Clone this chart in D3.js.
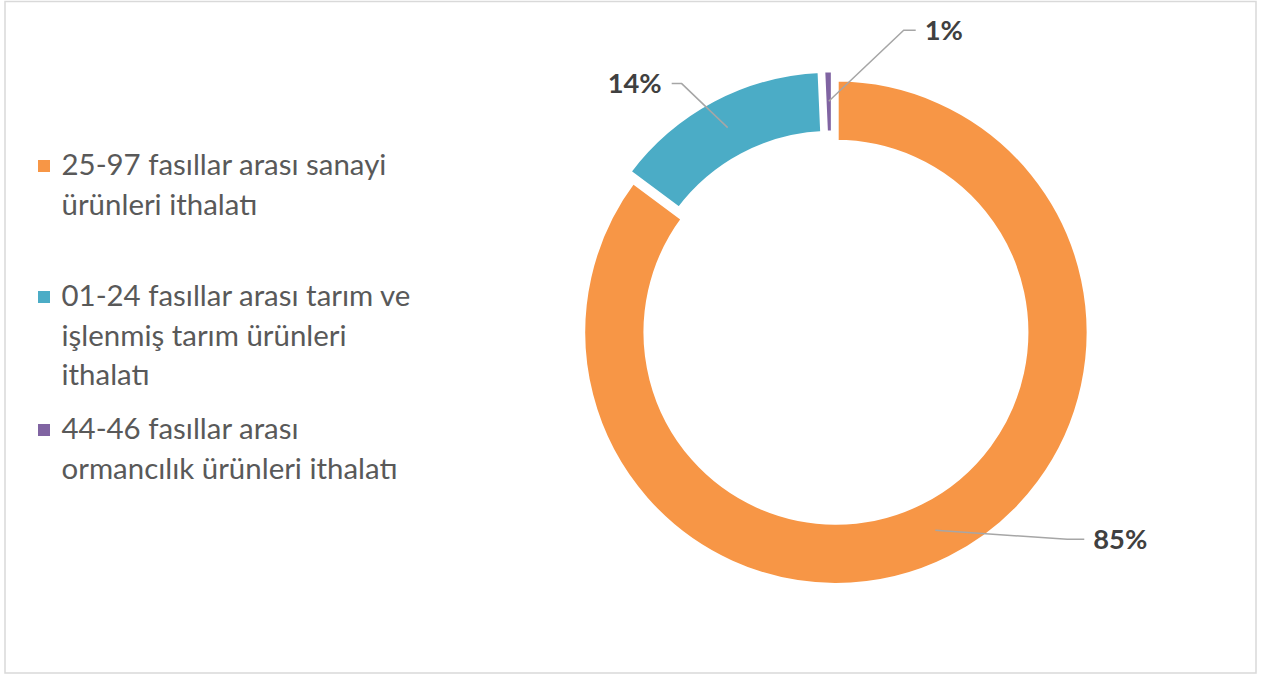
<!DOCTYPE html>
<html>
<head>
<meta charset="utf-8">
<script src="https://cdn.jsdelivr.net/npm/d3@7"></script>
<style>
  html, body { margin: 0; padding: 0; background: #fff; }
  svg { display: block; }
</style>
</head>
<body>
<svg id="chart" width="1267" height="675"></svg>
<script>
// ---- data ----
const categories = [
  "25-97 fasıllar arası sanayi ürünleri ithalatı",
  "01-24 fasıllar arası tarım ve işlenmiş tarım ürünleri ithalatı",
  "44-46 fasıllar arası ormancılık ürünleri ithalatı"
];
const legendLines = [
  ["25-97 fasıllar arası sanayi", "ürünleri ithalatı"],
  ["01-24 fasıllar arası tarım ve", "işlenmiş tarım ürünleri", "ithalatı"],
  ["44-46 fasıllar arası", "ormancılık ürünleri ithalatı"]
];
const values = [85.2, 14.1, 0.7];
const valueLabels = ["85%", "14%", "1%"];
const colors = ["#F79646", "#4BACC6", "#8064A2"];

// ---- layout ----
const W = 1267, H = 675;
const cx = 833.7, cy = 327.8;
const outerR = 253.4, innerR = 189.7;
const explode = 5;
const sliceGap = 5.5;
const fontFamily = "Lato, 'Open Sans', 'Noto Sans', sans-serif";

const svg = d3.select("#chart");

// chart border
svg.append("rect")
  .attr("x", 5).attr("y", 1.5)
  .attr("width", 1251).attr("height", 671.5)
  .attr("fill", "none").attr("stroke", "#d9d9d9").attr("stroke-width", 1.5);

const pie = d3.pie().sort(null).value(d => d);
const arcs = pie(values);
const arc = d3.arc().innerRadius(innerR).outerRadius(outerR);

const g = svg.append("g").attr("transform", `translate(${cx},${cy})`);

const slices = g.selectAll("g.slice").data(arcs).join("g")
  .attr("class", "slice")
  .attr("transform", d => {
    const m = (d.startAngle + d.endAngle) / 2;
    return `translate(${Math.sin(m) * explode},${-Math.cos(m) * explode})`;
  });

slices.append("path")
  .attr("d", arc)
  .attr("fill", (d, i) => colors[i])
  .attr("stroke", "#fff")
  .attr("stroke-width", sliceGap)
  .attr("stroke-linejoin", "miter");

// data labels with leader lines (offsets relative to slice centroid)
const labelLayout = [
  { elbow: [132, 9], end: [149, 9], anchor: "start", tx: 9 },
  { elbow: [-46, -44], end: [-56, -44], anchor: "end", tx: -10 },
  { elbow: [75, -71], end: [87, -71], anchor: "start", tx: 9 }
];

slices.each(function (d, i) {
  const s = d3.select(this);
  const c = arc.centroid(d);
  const L = labelLayout[i];
  const pts = [c, [c[0] + L.elbow[0], c[1] + L.elbow[1]], [c[0] + L.end[0], c[1] + L.end[1]]];
  s.append("path")
    .attr("d", d3.line()(pts))
    .attr("fill", "none")
    .attr("stroke", "#a6a6a6")
    .attr("stroke-width", 1.5);
  s.append("text")
    .attr("class", "vlabel")
    .attr("x", pts[2][0] + L.tx)
    .attr("y", pts[2][1])
    .attr("dy", "0.35em")
    .attr("text-anchor", L.anchor)
    .attr("font-family", fontFamily)
    .attr("font-weight", "bold")
    .attr("fill", "#404040")
    .text(valueLabels[i]);
});

// fit label font to reference width ("85%" ≈ 54px)
(function () {
  const t = svg.selectAll("text.vlabel").attr("font-size", 30);
  const w = t.filter((d, i) => i === 0).node().getComputedTextLength();
  t.attr("font-size", 30 * 54 / w);
})();

// legend
const legendX = 38, textX = 61.5;
const firstBaselines = [175, 306, 439];
const lineH = 39.5;
const legend = svg.append("g").attr("class", "legend");
legendLines.forEach((lines, i) => {
  const b = firstBaselines[i];
  legend.append("rect")
    .attr("x", legendX).attr("y", b - 15)
    .attr("width", 12).attr("height", 12)
    .attr("fill", colors[i]);
  const t = legend.append("text")
    .attr("class", "ltext")
    .attr("font-family", fontFamily)
    .attr("fill", "#595959")
    .attr("aria-label", categories[i]);
  lines.forEach((ln, j) => {
    t.append("tspan").attr("x", textX).attr("y", b + j * lineH).text(ln);
  });
});
(function () {
  const texts = svg.selectAll("text.ltext").attr("font-size", 27);
  const tsp = texts.filter((d, i) => i === 0).select("tspan").node();
  const w = tsp.getComputedTextLength();
  texts.attr("font-size", 27 * 325 / w);
})();
</script>
</body>
</html>
